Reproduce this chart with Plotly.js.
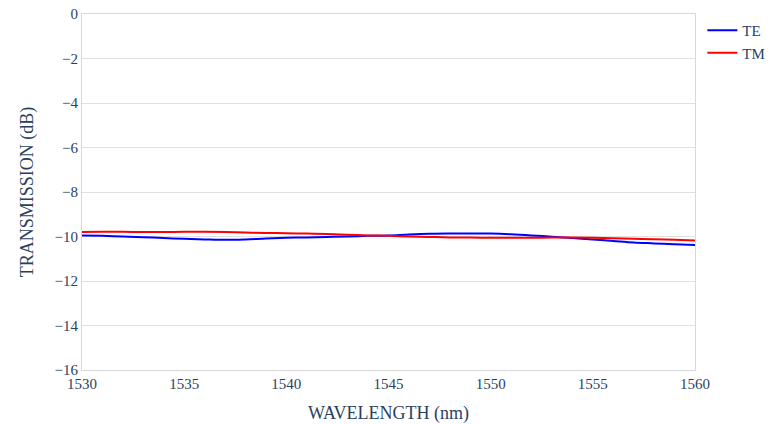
<!DOCTYPE html>
<html>
<head>
<meta charset="utf-8">
<script src="https://cdn.plot.ly/plotly-3.0.1.min.js"></script>
<style>html,body{margin:0;padding:0;background:#fff;}#chart{width:776px;height:424px;}</style>
</head>
<body>
<div id="chart"></div>
<script>
const wavelength = [1530,1531,1532,1533,1534,1535,1536,1537,1538,1539,1540,1541,1542,1543,1544,1545,1546,1547,1548,1549,1550,1551,1552,1553,1554,1555,1556,1557,1558,1559,1560];
const teValues = [-9.95,-9.97,-10.00,-10.03,-10.07,-10.10,-10.13,-10.15,-10.13,-10.09,-10.06,-10.04,-10.02,-10.00,-9.97,-9.95,-9.91,-9.88,-9.87,-9.87,-9.87,-9.90,-9.95,-10.01,-10.07,-10.13,-10.20,-10.27,-10.31,-10.35,-10.38];
const tmValues = [-9.80,-9.79,-9.79,-9.80,-9.80,-9.79,-9.79,-9.80,-9.82,-9.84,-9.85,-9.87,-9.89,-9.92,-9.95,-9.97,-10.00,-10.02,-10.04,-10.05,-10.06,-10.06,-10.06,-10.05,-10.05,-10.06,-10.08,-10.10,-10.12,-10.15,-10.18];
const seriesNames = ['TE','TM'];

const fontFam = 'Times New Roman, Liberation Serif, DejaVu Serif';
const traces = [
  {x: wavelength, y: teValues, name: seriesNames[0], mode: 'lines', line: {color: '#0000ff', width: 2, shape: 'spline'}},
  {x: wavelength, y: tmValues, name: seriesNames[1], mode: 'lines', line: {color: '#ff0000', width: 2, shape: 'spline'}}
];
const layout = {
  width: 776, height: 424,
  margin: {l: 82, r: 81, t: 14, b: 54, autoexpand: false},
  paper_bgcolor: '#fff', plot_bgcolor: '#fff',
  font: {family: fontFam, size: 15, color: '#2a3f5f'},
  xaxis: {
    range: [1530, 1560], dtick: 5, showgrid: false, zeroline: false,
    showline: true, mirror: true, linecolor: '#d9d9d9', linewidth: 1,
    ticks: '', title: {text: 'WAVELENGTH (nm)', font: {size: 18}, standoff: 15}
  },
  yaxis: {
    range: [-16, 0], dtick: 2, showgrid: true, gridcolor: '#e0e0e0', zeroline: false,
    showline: true, mirror: true, linecolor: '#d9d9d9', linewidth: 1,
    ticks: '', title: {text: 'TRANSMISSION (dB)', font: {size: 18}, standoff: 16}
  },
  legend: {x: 1.012, y: 1, xanchor: 'left', yanchor: 'top', font: {size: 15}},
  showlegend: true
};
Plotly.newPlot('chart', traces, layout, {displayModeBar: false, staticPlot: true});
</script>
</body>
</html>
